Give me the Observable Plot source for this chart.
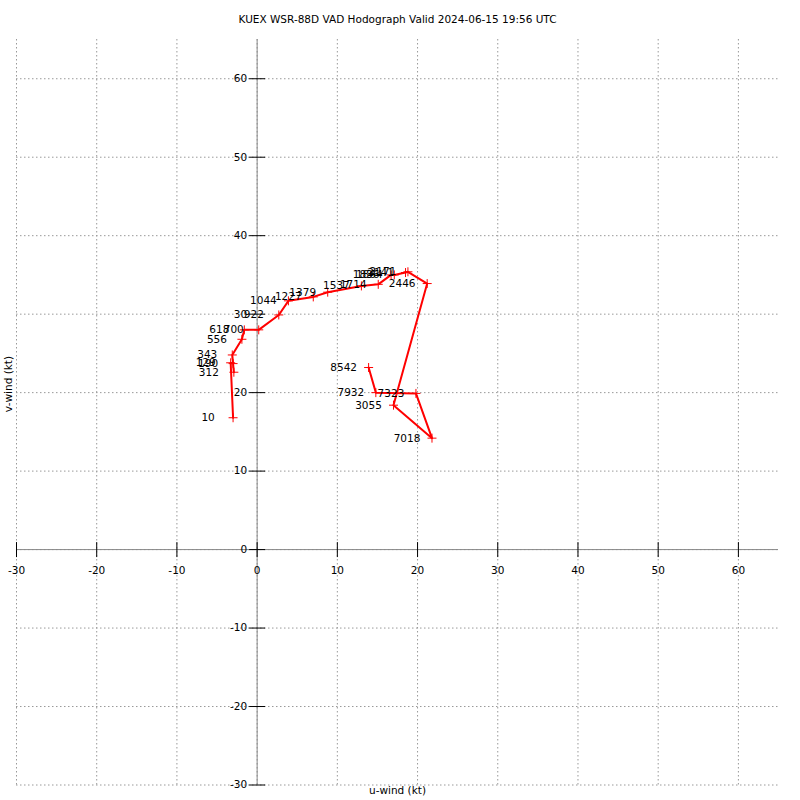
<!DOCTYPE html>
<html><head><meta charset="utf-8">
<script src="https://cdn.jsdelivr.net/npm/d3@7"></script>
<script src="https://cdn.jsdelivr.net/npm/@observablehq/plot@0.6"></script>
<style>body{margin:0;background:#fff;font-family:"DejaVu Sans",sans-serif}</style>
</head><body><div id="chart"></div>
<script>
const chartTitle = "KUEX WSR-88D VAD Hodograph Valid 2024-06-15 19:56 UTC";
const xLabel = "u-wind (kt)";
const yLabel = "v-wind (kt)";
const heights = ["10","129","190","312","343","556","618","700","922","1044","1227","1379","1537","1714","1836","1864","2141","2171","2446","3055","7018","7323","7932","8542"];
const uWind = [-3.0,-3.3,-3.0,-2.9,-3.1,-1.9,-1.6,0.2,2.7,3.9,7.0,8.8,13.0,15.1,16.7,17.1,18.5,18.8,21.2,17.0,21.8,19.8,14.8,13.9];
const vWind = [16.8,23.8,23.7,22.6,24.8,26.8,28.0,28.0,29.9,31.7,32.2,32.8,33.6,33.8,35.0,35.0,35.3,35.4,33.9,18.4,14.2,19.9,20.0,23.2];
const tickValues = [-30,-20,-10,0,10,20,30,40,50,60];

const data = heights.map((h, i) => ({h, u: uWind[i], v: vWind[i]}));

const vTick = {draw(ctx, size) { const r = Math.sqrt(size / Math.PI); ctx.moveTo(0, -r); ctx.lineTo(0, r); }};
const hTick = {draw(ctx, size) { const r = Math.sqrt(size / Math.PI); ctx.moveTo(-r, 0); ctx.lineTo(r, 0); }};
const plusLine = {draw(ctx, size) { const r = Math.sqrt(size / Math.PI); ctx.moveTo(-r, 0); ctx.lineTo(r, 0); ctx.moveTo(0, -r); ctx.lineTo(0, r); }};

const grid = {stroke: "#999", strokeWidth: 1, strokeDasharray: "1.5,2.5"};
const fs = 10.5;

const plot = Plot.plot({
  width: 800, height: 800,
  marginLeft: 16, marginRight: 22, marginTop: 39, marginBottom: 15.5,
  x: {domain: [-30, 65], axis: null},
  y: {domain: [-30, 65], axis: null},
  style: {fontFamily: "DejaVu Sans", fontSize: "10.5px", background: "white", color: "black"},
  marks: [
    Plot.ruleX(tickValues, {x: d => d, ...grid}),
    Plot.ruleY(tickValues, {y: d => d, ...grid}),
    Plot.ruleX([0], {x: d => d, stroke: "#888", strokeWidth: 1}),
    Plot.ruleY([0], {y: d => d, stroke: "#888", strokeWidth: 1}),
    Plot.dot(tickValues, {x: d => d, y: () => 0, symbol: vTick, r: 7.5, fill: "none", stroke: "black", strokeWidth: 1}),
    Plot.dot(tickValues, {x: () => 0, y: d => d, symbol: hTick, r: 8, fill: "none", stroke: "black", strokeWidth: 1}),
    Plot.text(tickValues, {x: d => d, y: () => 0, text: d => String(d), dy: 21, fill: "black", fontSize: fs}),
    Plot.text(tickValues, {x: () => 0, y: d => d, text: d => String(d), dx: -10, textAnchor: "end", fill: "black", fontSize: fs}),
    Plot.line(data, {x: "u", y: "v", stroke: "red", strokeWidth: 2}),
    Plot.dot(data, {x: "u", y: "v", symbol: plusLine, r: 4.5, fill: "none", stroke: "red", strokeWidth: 1}),
    Plot.text(data, {x: "u", y: "v", text: "h", dx: -25, fill: "black", fontSize: fs}),
    Plot.text([chartTitle], {frameAnchor: "top", lineAnchor: "middle", text: d => d, dy: -20, fill: "black", fontSize: fs}),
    Plot.text([xLabel], {frameAnchor: "bottom", lineAnchor: "middle", text: d => d, dy: 6, fill: "black", fontSize: fs}),
    Plot.text([yLabel], {frameAnchor: "left", lineAnchor: "middle", text: d => d, dx: -8, rotate: -90, fill: "black", fontSize: fs})
  ]
});
document.getElementById("chart").appendChild(plot);
</script>
</body></html>
